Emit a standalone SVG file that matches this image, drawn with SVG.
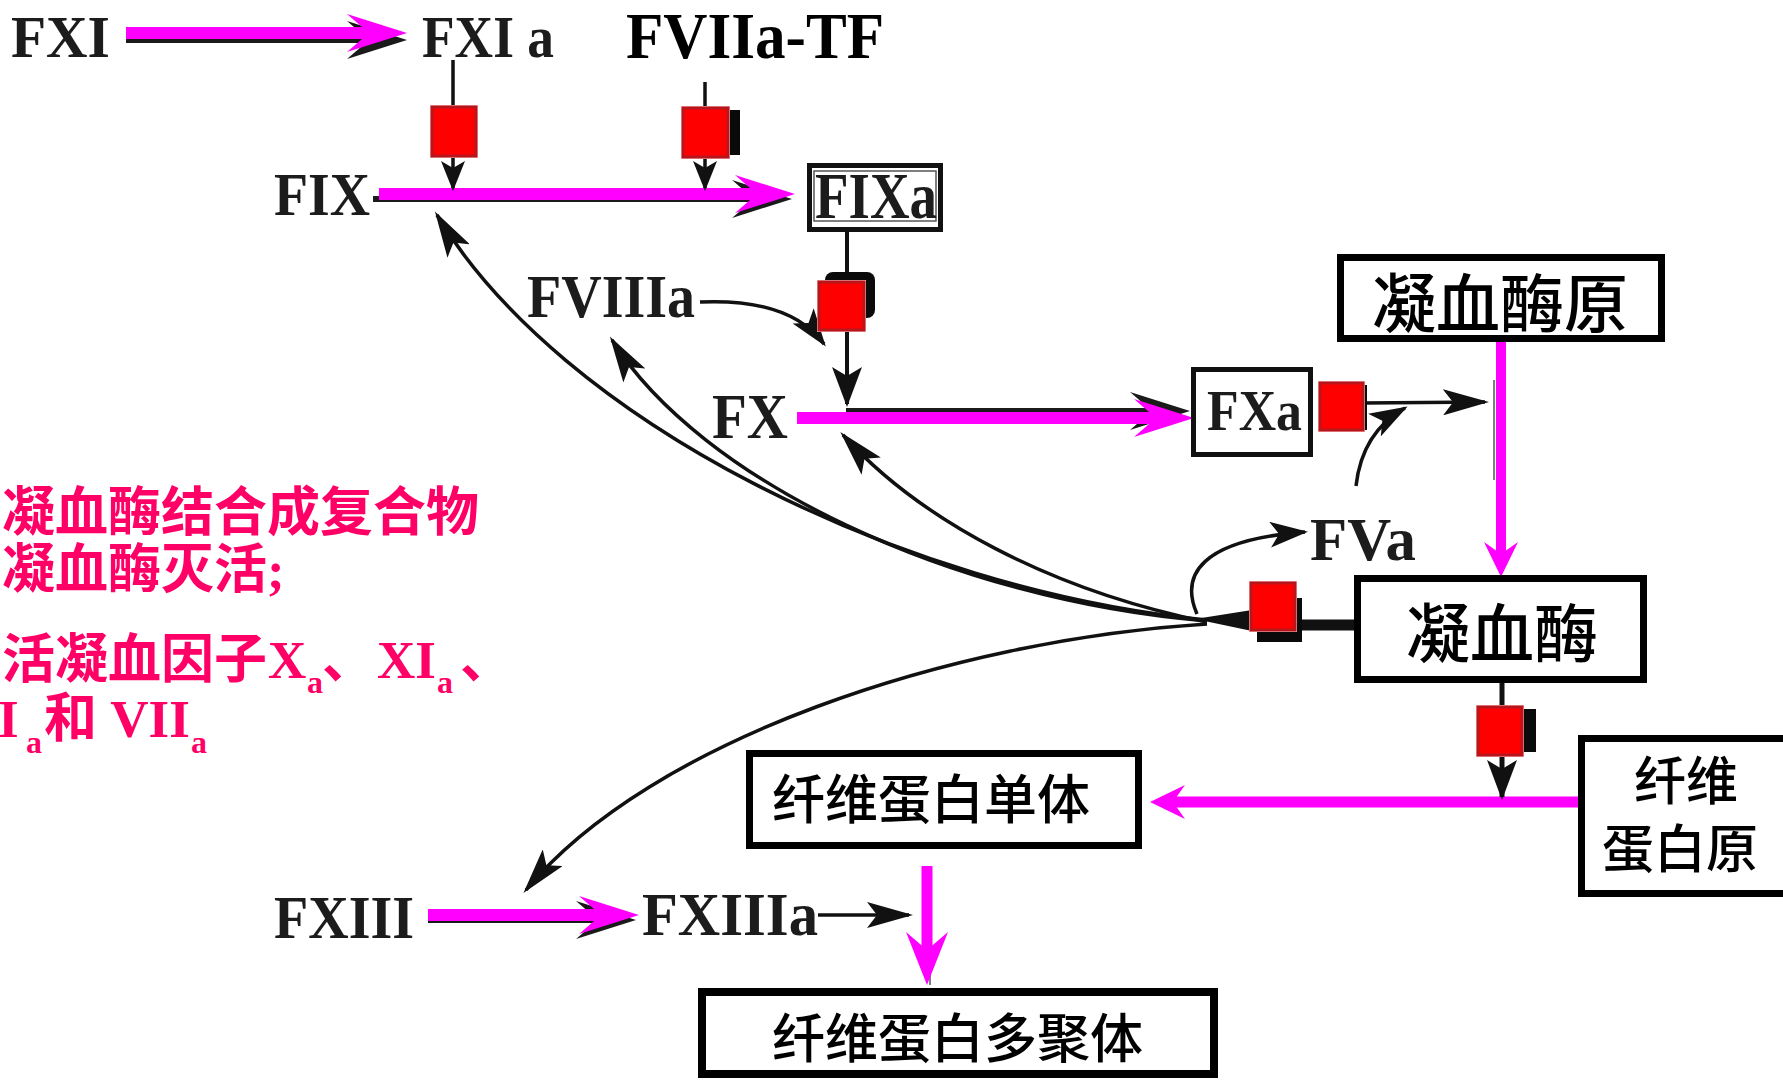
<svg xmlns="http://www.w3.org/2000/svg" width="1783" height="1080" viewBox="0 0 1783 1080">
<defs>
<style>
.lbl{font-family:"Liberation Serif","Times New Roman",serif;font-weight:bold;fill:#1c1c1c;}
.cjk{font-family:"Noto Sans CJK SC",sans-serif;font-weight:500;fill:#000;}
.pink{font-family:"Liberation Serif","Noto Sans CJK SC",serif;font-weight:bold;fill:#ff0066;font-size:53px;}
.sub{font-size:32px;}
.box{fill:#fff;stroke:#000;stroke-width:7;}
.mg{fill:none;stroke:#ff00ff;stroke-width:12;}
.mgs{fill:none;stroke:#1a1a1a;stroke-width:6;}
.bl{fill:none;stroke:#111;stroke-width:3.5;}
.thin{fill:none;stroke:#555;stroke-width:1.5;}
.sq{fill:#ff0000;stroke:#b8161d;stroke-width:3;}
.glow{fill:#ffc4c4;}
.shd{fill:#0a0a0a;}
</style>
<marker id="mL" markerUnits="userSpaceOnUse" markerWidth="60" markerHeight="38" refX="30" refY="19" orient="auto"><path d="M0,0 L60,19 L0,38 L22,19 Z" fill="#ff00ff"/></marker>
<marker id="mLk" markerUnits="userSpaceOnUse" markerWidth="60" markerHeight="38" refX="30" refY="19" orient="auto"><path d="M0,0 L60,19 L0,38 L22,19 Z" fill="#1a1a1a"/></marker>
<marker id="mS" markerUnits="userSpaceOnUse" markerWidth="35" markerHeight="34" refX="20" refY="17" orient="auto"><path d="M0,0 L35,17 L0,34 L12,17 Z" fill="#ff00ff"/></marker>
<marker id="mD" markerUnits="userSpaceOnUse" markerWidth="53" markerHeight="42" refX="25" refY="21" orient="auto"><path d="M0,0 L53,21 L0,42 L18,21 Z" fill="#ff00ff"/></marker>
<marker id="ah" markerUnits="userSpaceOnUse" markerWidth="46" markerHeight="26" refX="42" refY="13" orient="auto"><path d="M0,0 L46,13 L0,26 L10,13 Z" fill="#111"/></marker>
<marker id="am" markerUnits="userSpaceOnUse" markerWidth="38" markerHeight="26" refX="35" refY="13" orient="auto"><path d="M0,0 L38,13 L0,26 L9,13 Z" fill="#111"/></marker>
<marker id="as" markerUnits="userSpaceOnUse" markerWidth="30" markerHeight="24" refX="27" refY="12" orient="auto"><path d="M0,0 L30,12 L0,24 L7,12 Z" fill="#111"/></marker>
<marker id="aw" markerUnits="userSpaceOnUse" markerWidth="40" markerHeight="30" refX="37" refY="15" orient="auto"><path d="M0,0 L40,15 L0,30 L9,15 Z" fill="#111"/></marker>
</defs>
<rect width="1783" height="1080" fill="#fff"/>

<g id="connectors">
  <path class="mgs" d="M126 40 L377 40" marker-end="url(#mLk)"/>
  <path class="mgs" d="M373 199 L762 199" marker-end="url(#mLk)"/>
  <path class="mgs" d="M846 411 L1160 411" marker-end="url(#mLk)"/>
  <path class="mgs" d="M428 920 L606 920" marker-end="url(#mLk)"/>
  <path class="thin" d="M1494 380 L1494 480"/>
  <path class="thin" d="M930 900 L930 985"/>

  <path class="mg" d="M126 33 L377 33" marker-end="url(#mL)"/>
  <path class="mg" d="M379 194 L765 194" marker-end="url(#mL)"/>
  <path class="mg" d="M797 418 L1164 418" marker-end="url(#mL)"/>
  <path class="mg" style="stroke-width:10" d="M1501 339 L1501 562" marker-end="url(#mS)"/>
  <path class="mg" style="stroke-width:11" d="M1581 802 L1165 802" marker-end="url(#mS)"/>
  <path class="mg" d="M428 915 L609 915" marker-end="url(#mL)"/>
  <path class="mg" style="stroke-width:11" d="M927 866 L927 957" marker-end="url(#mD)"/>

  <path class="bl" d="M453 60 L453 188" marker-end="url(#as)"/>
  <path class="bl" d="M705 82 L705 188" marker-end="url(#as)"/>
  <path class="bl" style="stroke-width:4" d="M847 232 L847 404" marker-end="url(#aw)"/>
  <path class="bl" d="M1363 403 L1485 402" marker-end="url(#ah)"/>
  <path class="bl" d="M818 915 L909 915" marker-end="url(#ah)"/>
  <path class="bl" style="stroke-width:5" d="M1502 683 L1502 797" marker-end="url(#aw)"/>
  <path class="bl" style="stroke-width:11" d="M1295 625 L1356 625"/>
  <polygon points="1195,619 1252,610 1252,631" fill="#111"/>

  <path class="bl" d="M700 302 Q790 298 824 344" marker-end="url(#am)"/>
  <path class="bl" d="M1356 486 Q1362 432 1405 408" marker-end="url(#am)"/>
  <path class="bl" d="M1207 620 C900 590 560 420 437 215" marker-end="url(#ah)"/>
  <path class="bl" d="M1207 621 C950 600 700 480 612 340" marker-end="url(#ah)"/>
  <path class="bl" d="M1207 622 C1050 590 920 520 843 435" marker-end="url(#ah)"/>
  <path class="bl" d="M1207 624 C950 640 650 740 526 890" marker-end="url(#ah)"/>
  <path class="bl" d="M1197 614 C1180 575 1200 540 1305 532" marker-end="url(#am)"/>
</g>

<g id="red-squares">
  <g id="sq1"><rect class="glow" x="430" y="105" width="48" height="53"/><rect class="sq" x="432" y="107" width="44" height="49"/></g>
  <g id="sq2"><rect class="shd" x="722" y="110" width="18" height="45"/><rect class="glow" x="681" y="106" width="49" height="53"/><rect class="sq" x="683" y="108" width="45" height="49"/></g>
  <g id="sq3"><rect class="shd" x="825" y="272" width="50" height="46" rx="8"/><rect class="glow" x="817" y="280" width="49" height="52"/><rect class="sq" x="819" y="282" width="45" height="48"/></g>
  <g id="sq4"><rect class="shd" x="1360" y="385" width="7" height="45"/><rect class="glow" x="1318" y="381" width="47" height="51"/><rect class="sq" x="1320" y="383" width="43" height="47"/></g>
  <g id="sq5"><rect class="shd" x="1257" y="598" width="45" height="44"/><rect class="glow" x="1249" y="581" width="48" height="51"/><rect class="sq" x="1251" y="583" width="44" height="47"/></g>
  <g id="sq6"><rect class="shd" x="1516" y="709" width="20" height="43"/><rect class="glow" x="1476" y="705" width="48" height="52"/><rect class="sq" x="1478" y="707" width="44" height="48"/></g>
</g>

<g id="FXI"><text class="lbl" x="11" y="57" font-size="60" textLength="99" lengthAdjust="spacingAndGlyphs">FXI</text></g>
<g id="FXIa"><text class="lbl" x="422" y="57" font-size="60" textLength="132" lengthAdjust="spacingAndGlyphs">FXI a</text></g>
<g id="FVIIa-TF"><text class="lbl" x="626" y="58" font-size="65" style="fill:#000" textLength="258" lengthAdjust="spacingAndGlyphs">FVIIa-TF</text></g>
<g id="FIX"><text class="lbl" x="274" y="215" font-size="62" textLength="96" lengthAdjust="spacingAndGlyphs">FIX</text></g>
<g id="FIXa">
  <rect x="809.5" y="165.5" width="131" height="64" fill="#fff" stroke="#111" stroke-width="5"/>
  <rect x="814" y="171" width="122" height="50" fill="none" stroke="#555" stroke-width="1.5"/>
  <text class="lbl" x="815" y="218" font-size="66" textLength="122" lengthAdjust="spacingAndGlyphs">FIXa</text>
</g>
<g id="FVIIIa"><text class="lbl" x="527" y="317" font-size="62" textLength="168" lengthAdjust="spacingAndGlyphs">FVIIIa</text></g>
<g id="FX"><text class="lbl" x="712" y="438" font-size="64" textLength="76" lengthAdjust="spacingAndGlyphs">FX</text></g>
<g id="FXa">
  <rect x="1193.5" y="369.5" width="117" height="85" fill="#fff" stroke="#111" stroke-width="5"/>
  <text class="lbl" x="1207" y="430" font-size="57" textLength="95" lengthAdjust="spacingAndGlyphs">FXa</text>
</g>
<g id="FVa"><text class="lbl" x="1310" y="560" font-size="62" textLength="106" lengthAdjust="spacingAndGlyphs">FVa</text></g>
<g id="FXIII"><text class="lbl" x="274" y="938" font-size="62" textLength="140" lengthAdjust="spacingAndGlyphs">FXIII</text></g>
<g id="FXIIIa"><text class="lbl" x="642" y="935" font-size="62" textLength="176" lengthAdjust="spacingAndGlyphs">FXIIIa</text></g>

<g id="prothrombin">
  <rect class="box" x="1340.5" y="257.5" width="321" height="81"/>
  <text class="cjk" x="1500" y="327" font-size="64" text-anchor="middle">凝血酶原</text>
</g>
<g id="thrombin">
  <rect class="box" x="1357.5" y="578.5" width="286" height="101"/>
  <text class="cjk" x="1502" y="657" font-size="64" text-anchor="middle">凝血酶</text>
</g>
<g id="fibrin-monomer">
  <rect class="box" x="749.5" y="753.5" width="389" height="92"/>
  <text class="cjk" x="772" y="819" font-size="53">纤维蛋白单体</text>
</g>
<g id="fibrinogen">
  <rect class="box" x="1581.5" y="738.5" width="220" height="155"/>
  <text class="cjk" x="1686" y="800" font-size="52" text-anchor="middle">纤维</text>
  <text class="cjk" x="1680" y="868" font-size="52" text-anchor="middle">蛋白原</text>
</g>
<g id="fibrin-polymer">
  <rect class="box" x="702" y="992" width="512" height="82" style="stroke-width:8"/>
  <text class="cjk" x="772" y="1058" font-size="53">纤维蛋白多聚体</text>
</g>

<g id="note">
  <text class="pink" x="2" y="531">凝血酶结合成复合物</text>
  <text class="pink" x="2" y="588">凝血酶灭活;</text>
  <text class="pink" y="678"><tspan x="2">活凝血因子</tspan><tspan x="268">X</tspan><tspan class="sub" x="307" y="693">a</tspan><tspan x="322" y="678">、</tspan><tspan x="377">XI</tspan><tspan class="sub" x="437" y="693">a</tspan><tspan x="460" y="678">、</tspan></text>
  <text class="pink" y="737"><tspan x="-2">I</tspan><tspan class="sub" x="26" y="753">a</tspan><tspan x="44" y="737">和 VII</tspan><tspan class="sub" x="191" y="753">a</tspan></text>
</g>
</svg>
